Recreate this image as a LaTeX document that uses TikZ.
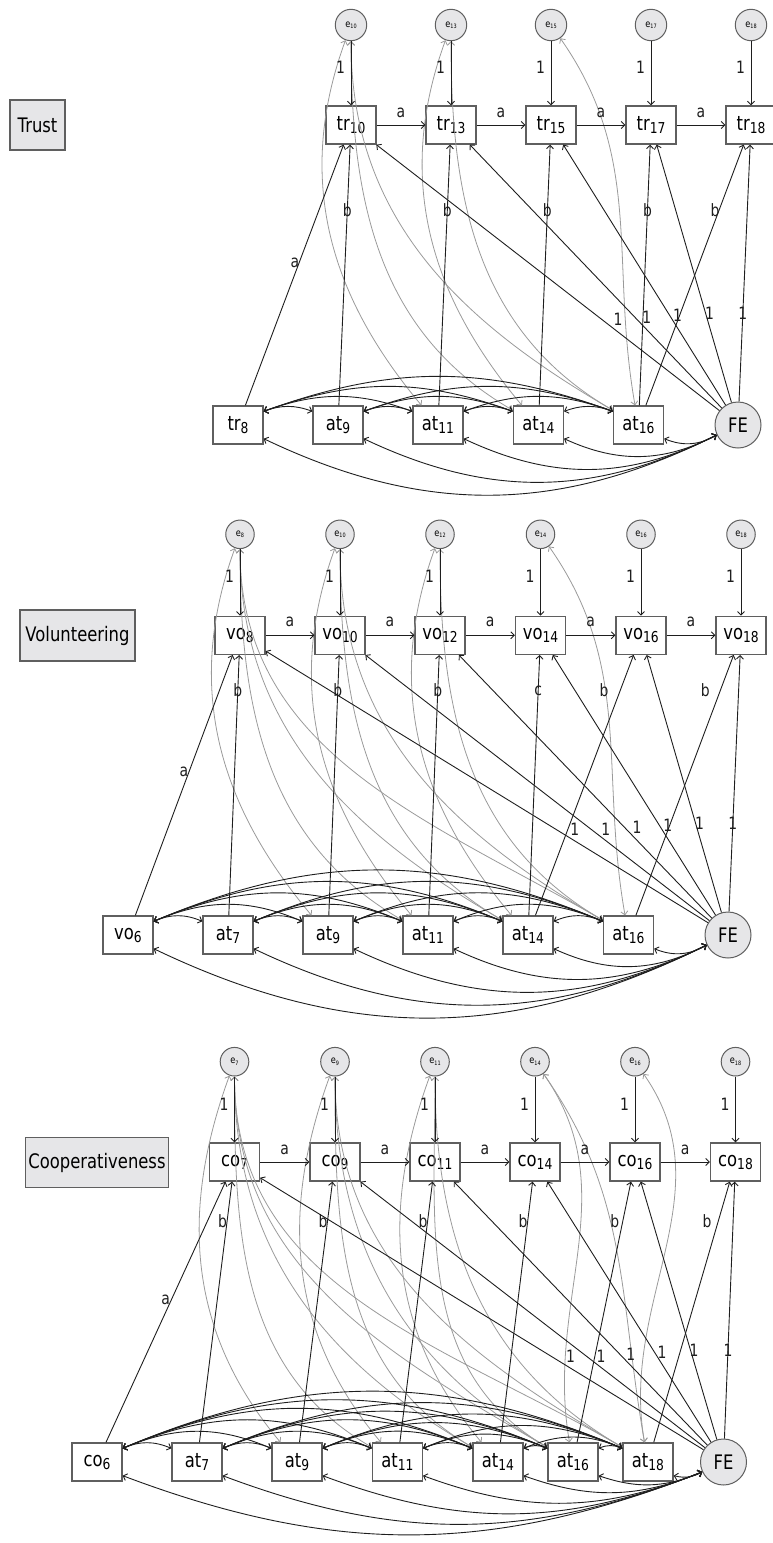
\documentclass[tikz,border=0pt]{standalone}
\usepackage{fontspec}
\setmainfont{DejaVu Sans}[FakeStretch=0.82]
\usetikzlibrary{arrows.meta}
\definecolor{bordergray}{HTML}{5F5F5F}
\definecolor{fillgray}{HTML}{E6E6E8}
\definecolor{linecol}{HTML}{1E1E1E}
\definecolor{graycol}{HTML}{9A9A9A}
\newcommand\nm[2]{#1\raisebox{-3pt}{\fontsize{15}{15}\selectfont #2}}
\newcommand\en[1]{e\raisebox{-1.5pt}{\fontsize{6}{6}\selectfont #1}}
\newcommand\gc[4]{\draw[gcov] (#1) to[out=#3,in=#4] (#2);}
\tikzset{
  obs/.style={draw=bordergray, line width=1.3pt, fill=white, minimum width=50pt, minimum height=38pt, inner sep=0pt, font=\fontsize{20}{20}\selectfont},
  lat/.style={circle, draw=bordergray, line width=1pt, fill=fillgray, inner sep=0pt},
  err/.style={lat, font=\fontsize{10}{10}\selectfont},
  fe/.style={lat, minimum size=46pt, font=\fontsize{20}{20}\selectfont},
  title/.style={draw=bordergray, line width=1.3pt, fill=fillgray, inner sep=0pt, font=\fontsize{20}{20}\selectfont},
  pth/.style={-{Straight Barb[length=3.5pt,width=7pt]}, draw=linecol, line width=0.9pt},
  cov/.style={{Straight Barb[length=3.5pt,width=7pt]}-{Straight Barb[length=3.5pt,width=7pt]}, draw=linecol, line width=0.9pt},
  gcov/.style={{Straight Barb[length=3.5pt,width=7pt]}-{Straight Barb[length=3.5pt,width=7pt]}, draw=graycol, line width=0.8pt},
  lbl/.style={font=\fontsize{17}{17}\selectfont, inner sep=0pt, text=linecol}
}
\begin{document}
\begin{tikzpicture}[x=1pt,y=-1pt]
\useasboundingbox (0,0) rectangle (773,1543);

% ================= Panel 1: Trust =================
\node[title, minimum width=55pt, minimum height=50pt] (T1) at (37.5,125) {Trust};
\foreach \i/\x in {10/351,13/451,15/551,17/651,18/751}{
  \node[err, minimum size=31.4pt] (A-e\i) at (\x,25) {\en{\i}};
  \node[obs] (A-y\i) at (\x,125) {\nm{tr}{\i}};
}
\node[obs] (A-n1) at (238,425) {\nm{tr}{8}};
\node[obs] (A-n2) at (338,425) {\nm{at}{9}};
\node[obs] (A-n3) at (438,425) {\nm{at}{11}};
\node[obs] (A-n4) at (538.4,425) {\nm{at}{14}};
\node[obs] (A-n5) at (638.5,425) {\nm{at}{16}};
\node[fe] (A-FE) at (738,425) {FE};

\gc{A-e10}{A-n3}{-110}{130}
\gc{A-e10}{A-n4}{-90}{150}
\gc{A-e10}{A-n5}{-90}{150}
\gc{A-e13}{A-n4}{-110}{130}
\gc{A-e13}{A-n5}{-90}{150}
\gc{A-e15}{A-n5}{-55}{100}

\foreach \i in {10,13,15,17,18}
  \draw[pth] (A-e\i) -- node[lbl,pos=0.41,xshift=-10.5pt]{1} (A-y\i);
\foreach \p/\q in {10/13,13/15,15/17,17/18}
  \draw[pth] (A-y\p) -- node[lbl,yshift=12pt]{a} (A-y\q);
\draw[pth] (A-n1) -- node[lbl,pos=0.546,xshift=-4pt]{a} (A-y10);
\draw[pth] (A-n2) -- node[lbl,pos=0.748]{b} (A-y10);
\draw[pth] (A-n3) -- node[lbl,pos=0.748]{b} (A-y13);
\draw[pth] (A-n4) -- node[lbl,pos=0.748]{b} (A-y15);
\draw[pth] (A-n5) -- node[lbl,pos=0.748]{b} (A-y17);
\draw[pth] (A-n5) -- node[lbl,pos=0.748,xshift=-4pt]{b} (A-y18);
\foreach \i/\s in {10/17,13/12,15/8,17/4,18/0}
  \draw[pth] (A-FE) -- node[lbl,pos=0.345,xshift=\s pt]{1} (A-y\i);
\foreach \i in {1,...,4}{
  \pgfmathtruncatemacro\s{\i+1}
  \foreach \j in {\s,...,5}
    \draw[cov] ([yshift=-6pt]A-n\i.north east) to[bend left=20] ([yshift=-6pt]A-n\j.north west);
}
\foreach \i in {1,...,5}
  \draw[cov] ([yshift=6pt]A-n\i.south east) to[bend right=26] (A-FE.205);

% ================= Panel 2: Volunteering =================
\node[title, minimum width=115pt, minimum height=51pt] (T2) at (77.5,635.5) {Volunteering};
\foreach \i/\x in {8/240,10/340,12/440,14/540.5,16/641,18/741}{
  \node[err, minimum size=28.5pt] (B-e\i) at (\x,534.3) {\en{\i}};
  \node[obs] (B-y\i) at (\x,635.3) {\nm{vo}{\i}};
}
\node[obs] (B-n1) at (128,935) {\nm{vo}{6}};
\node[obs] (B-n2) at (228,935) {\nm{at}{7}};
\node[obs] (B-n3) at (328,935) {\nm{at}{9}};
\node[obs] (B-n4) at (428,935) {\nm{at}{11}};
\node[obs] (B-n5) at (528,935) {\nm{at}{14}};
\node[obs] (B-n6) at (628.5,935) {\nm{at}{16}};
\node[fe] (B-FE) at (728,935) {FE};

\gc{B-e8}{B-n3}{-110}{130}
\gc{B-e8}{B-n4}{-90}{150}
\gc{B-e8}{B-n5}{-90}{150}
\gc{B-e8}{B-n6}{-90}{150}
\gc{B-e10}{B-n4}{-110}{130}
\gc{B-e10}{B-n5}{-90}{150}
\gc{B-e10}{B-n6}{-90}{150}
\gc{B-e12}{B-n5}{-110}{130}
\gc{B-e12}{B-n6}{-90}{150}
\gc{B-e14}{B-n6}{-55}{100}

\foreach \i in {8,10,12,14,16,18}
  \draw[pth] (B-e\i) -- node[lbl,pos=0.415,xshift=-10.5pt]{1} (B-y\i);
\foreach \p/\q in {8/10,10/12,12/14,14/16,16/18}
  \draw[pth] (B-y\p) -- node[lbl,yshift=13pt]{a} (B-y\q);
\draw[pth] (B-n1) -- node[lbl,pos=0.55,xshift=-5pt]{a} (B-y8);
\draw[pth] (B-n2) -- node[lbl,pos=0.863]{b} (B-y8);
\draw[pth] (B-n3) -- node[lbl,pos=0.863]{b} (B-y10);
\draw[pth] (B-n4) -- node[lbl,pos=0.863]{b} (B-y12);
\draw[pth] (B-n5) -- node[lbl,pos=0.863]{c} (B-y14);
\draw[pth] (B-n5) -- node[lbl,pos=0.863,xshift=-16pt]{b} (B-y16);
\draw[pth] (B-n6) -- node[lbl,pos=0.863,xshift=-15pt]{b} (B-y18);
\foreach \i/\s in {8/19.5,10/15,12/12.5,14/8.5,16/4,18/0}
  \draw[pth] (B-FE) -- node[lbl,pos=0.345,xshift=\s pt]{1} (B-y\i);
\foreach \i in {1,...,5}{
  \pgfmathtruncatemacro\s{\i+1}
  \foreach \j in {\s,...,6}
    \draw[cov] ([yshift=-6pt]B-n\i.north east) to[bend left=23] ([yshift=-6pt]B-n\j.north west);
}
\foreach \i in {1,...,6}
  \draw[cov] ([yshift=6pt]B-n\i.south east) to[bend right=26] (B-FE.205);

% ================= Panel 3: Cooperativeness =================
\node[title, minimum width=142.6pt, minimum height=50.4pt] (T3) at (97,1162.5) {Cooperativeness};
\foreach \i/\x in {7/234.5,9/335,11/435,14/535,16/635,18/735.5}{
  \node[err, minimum size=28.6pt] (C-e\i) at (\x,1061.7) {\en{\i}};
  \node[obs] (C-y\i) at (\x,1162) {\nm{co}{\i}};
}
\node[obs] (C-n1) at (97,1462) {\nm{co}{6}};
\node[obs] (C-n2) at (197,1462) {\nm{at}{7}};
\node[obs] (C-n3) at (297,1462) {\nm{at}{9}};
\node[obs] (C-n4) at (397.4,1462) {\nm{at}{11}};
\node[obs] (C-n5) at (498,1462) {\nm{at}{14}};
\node[obs] (C-n6) at (573,1462) {\nm{at}{16}};
\node[obs] (C-n7) at (648,1462) {\nm{at}{18}};
\node[fe] (C-FE) at (723.5,1462) {FE};

\gc{C-e7}{C-n3}{-110}{130}
\gc{C-e7}{C-n4}{-90}{150}
\gc{C-e7}{C-n5}{-90}{150}
\gc{C-e7}{C-n6}{-90}{150}
\gc{C-e7}{C-n7}{-90}{150}
\gc{C-e9}{C-n4}{-110}{130}
\gc{C-e9}{C-n5}{-90}{150}
\gc{C-e9}{C-n6}{-90}{150}
\gc{C-e9}{C-n7}{-90}{150}
\gc{C-e11}{C-n5}{-110}{130}
\gc{C-e11}{C-n6}{-90}{150}
\gc{C-e11}{C-n7}{-90}{150}
\gc{C-e14}{C-n6}{-55}{100}
\gc{C-e14}{C-n7}{-55}{100}
\gc{C-e16}{C-n7}{-55}{100}

\foreach \i in {7,9,11,14,16,18}
  \draw[pth] (C-e\i) -- node[lbl,pos=0.416,xshift=-10.5pt]{1} (C-y\i);
\foreach \p/\q in {7/9,9/11,11/14,14/16,16/18}
  \draw[pth] (C-y\p) -- node[lbl,yshift=12pt]{a} (C-y\q);
\draw[pth] (C-n1) -- node[lbl,pos=0.546,xshift=-5.5pt]{a} (C-y7);
\draw[pth] (C-n2) -- node[lbl,pos=0.847,xshift=-4.5pt]{b} (C-y7);
\draw[pth] (C-n3) -- node[lbl,pos=0.847,xshift=-4.5pt]{b} (C-y9);
\draw[pth] (C-n4) -- node[lbl,pos=0.847,xshift=-4.5pt]{b} (C-y11);
\draw[pth] (C-n5) -- node[lbl,pos=0.847,xshift=-4.5pt]{b} (C-y14);
\draw[pth] (C-n6) -- node[lbl,pos=0.847,xshift=-8pt]{b} (C-y16);
\draw[pth] (C-n7) -- node[lbl,pos=0.847,xshift=-11pt]{b} (C-y18);
\foreach \i/\s in {7/20,9/15,11/11,14/7.5,16/3.5,18/0}
  \draw[pth] (C-FE) -- node[lbl,pos=0.345,xshift=\s pt]{1} (C-y\i);
\foreach \i in {1,...,6}{
  \pgfmathtruncatemacro\s{\i+1}
  \foreach \j in {\s,...,7}
    \draw[cov] ([yshift=-6pt]C-n\i.north east) to[bend left=23] ([yshift=-6pt]C-n\j.north west);
}
\foreach \i in {1,...,7}
  \draw[cov] ([yshift=6pt]C-n\i.south east) to[bend right=21] (C-FE.205);
\end{tikzpicture}
\end{document}
